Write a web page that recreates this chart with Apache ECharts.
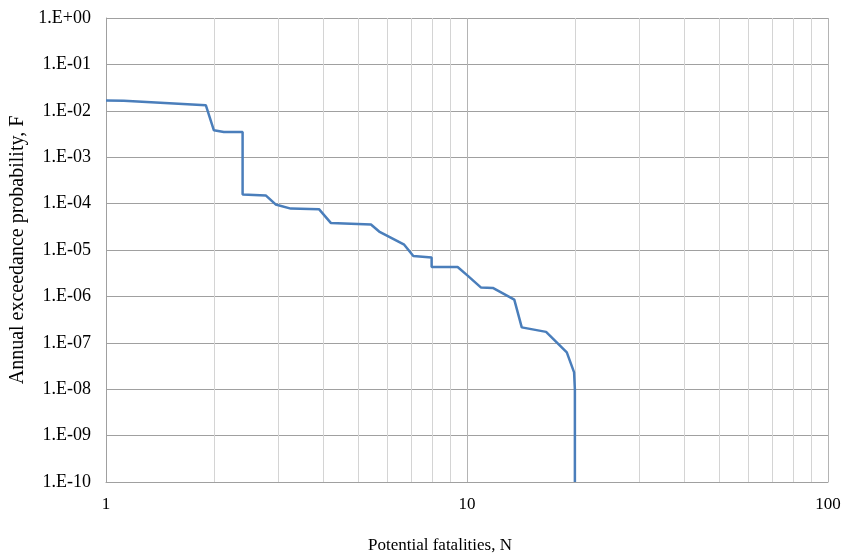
<!DOCTYPE html>
<html>
<head>
<meta charset="utf-8">
<script src="https://cdn.jsdelivr.net/npm/echarts@6/dist/echarts.min.js"></script>
<style>
  html, body { margin: 0; padding: 0; background: #ffffff; }
  #chart { width: 847px; height: 554px; }
</style>
</head>
<body>
<div id="chart"></div>
<script>
// F-N curve: potential fatalities N vs annual exceedance probability F
const fatalities = [1.0, 1.12, 1.89, 1.99, 2.12, 2.39, 2.39, 2.77, 2.95, 3.25, 3.89, 4.20, 5.42, 5.71,
  6.70, 7.10, 7.98, 7.98, 9.42, 10.04, 10.94, 11.79, 13.52, 14.18, 16.56, 18.9, 19.8, 19.9, 19.9];
const exceedance = [1.67e-2, 1.65e-2, 1.32e-2, 3.8e-3, 3.5e-3, 3.5e-3, 1.57e-4, 1.5e-4, 9.6e-5, 7.8e-5,
  7.6e-5, 3.8e-5, 3.55e-5, 2.5e-5, 1.3e-5, 7.4e-6, 6.9e-6, 4.3e-6, 4.3e-6, 2.8e-6, 1.55e-6, 1.52e-6,
  8.5e-7, 2.15e-7, 1.72e-7, 6.2e-8, 2.3e-8, 9.9e-9, 1e-10];

// Axis ranges and labels
const xTickLabels = ['1', '10', '100'];
const yTickLabels = ['1.E+00', '1.E-01', '1.E-02', '1.E-03', '1.E-04', '1.E-05',
  '1.E-06', '1.E-07', '1.E-08', '1.E-09', '1.E-10'];
// Intermediate vertical gridlines within each decade
const minorGridN = [2, 3, 4, 5, 6, 7, 8, 9, 20, 30, 40, 50, 60, 70, 80, 90];

const font = '"Liberation Serif", "Times New Roman", serif';

const chart = echarts.init(document.getElementById('chart'));
chart.setOption({
  animation: false,
  backgroundColor: '#ffffff',
  grid: { left: 106, right: 19, top: 18, bottom: 72, containLabel: false, outerBoundsMode: 'none' },
  xAxis: {
    type: 'log',
    logBase: 10,
    min: 1,
    max: 100,
    interval: 1,
    name: 'Potential fatalities, N',
    nameLocation: 'middle',
    nameGap: 55,
    nameTextStyle: { fontFamily: font, fontSize: 17, color: '#000', padding: [0, 54, 0, 0] },
    axisLine: { show: true, lineStyle: { color: '#a0a0a0', width: 1 } },
    axisTick: { show: false },
    axisLabel: {
      fontFamily: font, fontSize: 17, color: '#000', margin: 14,
      formatter: v => xTickLabels[Math.round(Math.log10(v))]
    },
    splitLine: { show: true, lineStyle: { color: '#b4b4b4', width: 1 } }
  },
  yAxis: {
    type: 'log',
    logBase: 10,
    min: 1e-10,
    max: 1,
    interval: 1,
    name: 'Annual exceedance probability, F',
    nameLocation: 'middle',
    nameGap: 76,
    nameRotate: 90,
    nameTextStyle: { fontFamily: font, fontSize: 20, color: '#000' },
    axisLine: { show: true, lineStyle: { color: '#a0a0a0', width: 1 } },
    axisTick: { show: false },
    axisLabel: {
      fontFamily: font, fontSize: 18, color: '#000', margin: 15,
      formatter: v => yTickLabels[-Math.round(Math.log10(v))]
    },
    splitLine: { show: true, lineStyle: { color: '#a0a0a0', width: 1 } }
  },
  series: [{
    type: 'line',
    data: fatalities.map((n, i) => [n, exceedance[i]]),
    showSymbol: false,
    symbol: 'none',
    lineStyle: { color: '#4a7ebb', width: 2.5 },
    z: 5,
    markLine: {
      silent: true,
      symbol: 'none',
      label: { show: false },
      lineStyle: { color: '#d4d4d4', width: 1, type: 'solid' },
      z: 1,
      data: minorGridN.map(n => ({ xAxis: n }))
    }
  }]
});
</script>
</body>
</html>
